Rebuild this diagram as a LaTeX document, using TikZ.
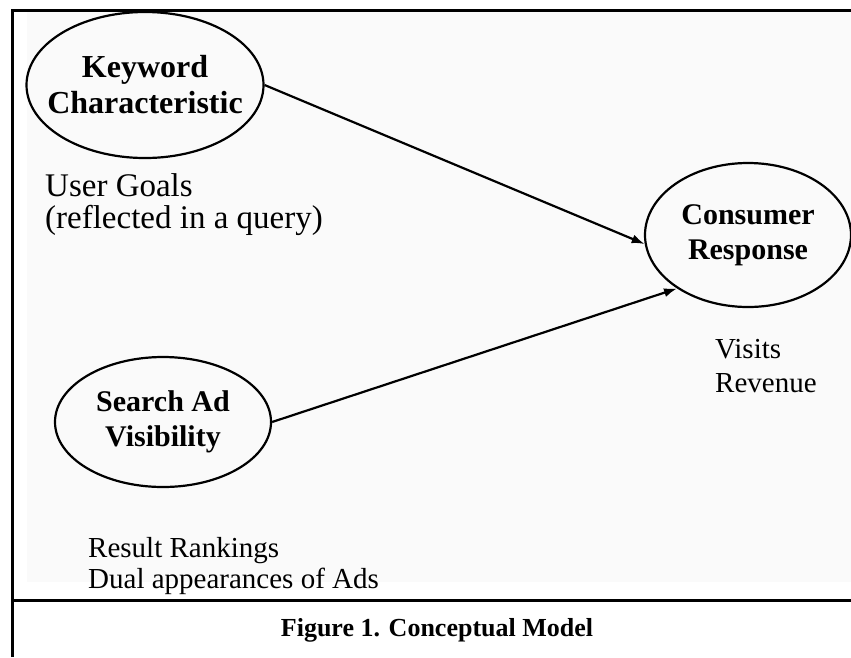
\documentclass[tikz,border=0pt]{standalone}
\usepackage{fontspec}
\setmainfont{Liberation Serif}
\usetikzlibrary{shapes.geometric,arrows.meta}

\begin{document}
\begin{tikzpicture}[x=1pt,y=-1pt,
                construct/.style={ellipse,draw,line width=2.2pt,inner xsep=-30pt,inner ysep=0pt,align=center,
                        font=\fontsize{30}{35}\selectfont\bfseries},
                measure/.style={anchor=west,inner sep=0pt,align=left,
                        font=\fontsize{29}{34}\selectfont},
                link/.style={line width=2.2pt,->,>={Latex[length=13pt,width=9pt]}}]
                \useasboundingbox (0,0) rectangle (851,657);
                % shaded drawing area and the frame around it
                \fill[black!2] (27,12) rectangle (851,582);
                \draw[line width=3pt] (12,657) -- (12,10) -- (851,10);
                \draw[line width=3pt] (12,600) -- (851,600);
                % the three constructs
                \node[construct,minimum width=237pt,minimum height=146pt,font=\fontsize{32}{36}\selectfont\bfseries] (keyword) at (145,85) {Keyword\\Characteristic};
                \node[construct,minimum width=206pt,minimum height=144pt] (response) at (748,235) {Consumer\\Response};
                \node[construct,minimum width=216pt,minimum height=130pt] (visibility) at (163,422) {Search Ad\\Visibility};
                % measures under each construct
                \node[measure,font=\fontsize{33}{32}\selectfont] (goals) at (45,205) {User Goals\\(reflected in a query)};
                \node[measure] (outcomes) at (715,366) {Visits\\Revenue};
                \node[measure,font=\fontsize{29}{31}\selectfont] (rankings) at (88,566) {Result Rankings\\Dual appearances of Ads};
                \draw[link] (keyword.east) -- (response.185);
                \draw[link] (visibility.east) -- (response.217);
                \node[font=\fontsize{26}{30}\selectfont\bfseries] (caption) at (437,630) {Figure 1. Conceptual Model};
            \end{tikzpicture}
\end{document}
